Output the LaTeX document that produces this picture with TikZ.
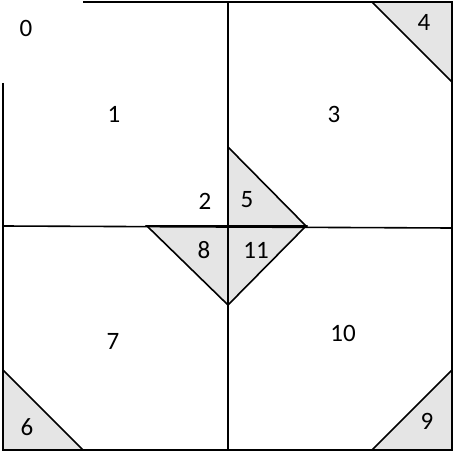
\documentclass[tikz,border=0pt]{standalone}
\usepackage{fontspec}
\setmainfont{Carlito}
\begin{document}
\begin{tikzpicture}[x=1pt,y=-1pt,
  ln/.style={line width=1.6pt,line join=miter},
  tri/.style={ln,fill=black!10},
  lbl/.style={font=\fontsize{25}{28}\selectfont,inner sep=0pt}]
\useasboundingbox (0,0) rectangle (454,457);
% shaded triangles
\draw[tri] (372,2) -- (452,2) -- (452,82) -- cycle;
\draw[tri] (3,370) -- (3,450) -- (83,450) -- cycle;
\draw[tri] (372,450) -- (452,450) -- (452,370) -- cycle;
\draw[tri] (228,147) -- (306,226) -- (228,226) -- cycle;
\draw[tri] (147,226) -- (228,226) -- (228,305) -- cycle;
\draw[tri] (228,226) -- (306,226) -- (228,305) -- cycle;
% outer lines
\coordinate (tl) at (83,2);
\coordinate (tr) at (453,2);
\coordinate (lt) at (3,83);
\coordinate (bl) at (3,450);
\coordinate (br) at (452,450);
\draw[ln] (tl) -- (tr);
\draw[ln] (lt) -- (bl) -- (br) -- (452,2);
% middle lines
\draw[ln] (228,2) -- (228,450);
\draw[ln] (3,226) -- (452,228);
% labels
\node[lbl] (n0) at (26,28) {0};
\node[lbl] (n1) at (114,114) {1};
\node[lbl] (n3) at (334,114) {3};
\node[lbl] (n4) at (424,22) {4};
\node[lbl] (n2) at (205,201) {2};
\node[lbl] (n5) at (247,200) {5};
\node[lbl] (n8) at (204,250) {8};
\node[lbl] (n11) at (256,250) {11};
\node[lbl] (n7) at (113,341) {7};
\node[lbl] (n10) at (343,333) {10};
\node[lbl] (n6) at (27,427) {6};
\node[lbl] (n9) at (427,421) {9};
\end{tikzpicture}
\end{document}
